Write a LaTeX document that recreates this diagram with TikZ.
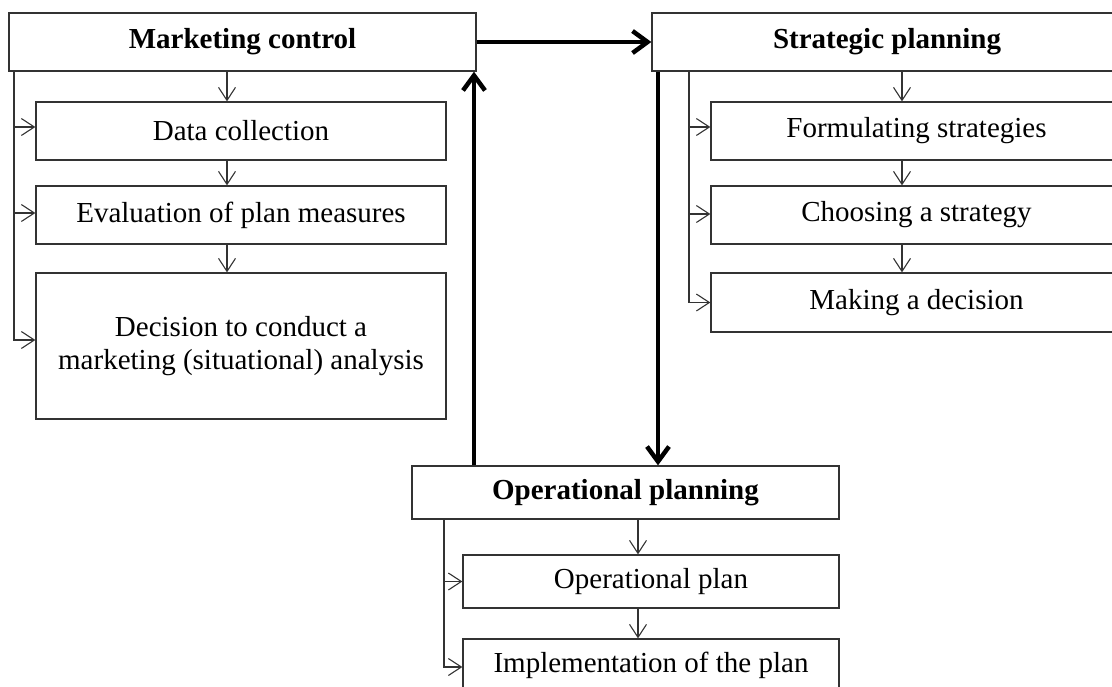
\documentclass[tikz,border=0pt]{standalone}
\usepackage{fontspec}
\setmainfont{Liberation Serif}
\usetikzlibrary{arrows.meta}

\begin{document}
\begin{tikzpicture}[x=1pt,y=-1pt,
  box/.style={draw=black!80,line width=1.3pt,inner sep=0pt,align=center,font=\fontsize{29}{33}\selectfont},
  head/.style={box,font=\fontsize{29}{33}\selectfont\bfseries},
  link/.style={draw=black!80,line width=1.1pt,-{Straight Barb[length=13pt,width=17pt,line width=1.1pt]}},
  flow/.style={draw=black,line width=4.5pt,-{Straight Barb[length=15pt,width=22pt,line width=4.5pt]}}]
  \useasboundingbox (0,0) rectangle (1112,686);
  \clip (0,0) rectangle (1112,686);
  % marketing control
  \node[head,minimum width=467pt,minimum height=58pt] (mc) at (242.5,42) {Marketing control};
  \node[box,minimum width=410pt,minimum height=58pt] (dc) at (241,131) {Data collection};
  \node[box,minimum width=410pt,minimum height=58pt] (ev) at (241,215) {Evaluation of plan measures};
  \node[box,minimum width=410pt,minimum height=146pt] (dec) at (241,346) {Decision to conduct a\\marketing (situational) analysis};
  % strategic planning
  \node[head,minimum width=470pt,minimum height=58pt] (sp) at (887,42) {Strategic planning};
  \node[box,minimum width=411pt,minimum height=58pt] (fs) at (916.5,131) {Formulating strategies};
  \node[box,minimum width=411pt,minimum height=58pt] (cs) at (916.5,215) {Choosing a strategy};
  \node[box,minimum width=411pt,minimum height=59pt] (md) at (916.5,302.5) {Making a decision};
  % operational planning
  \node[head,minimum width=427pt,minimum height=53pt] (op) at (625.5,492.5) {Operational planning};
  \node[box,minimum width=376pt,minimum height=53pt] (opl) at (651,581.5) {Operational plan};
  \node[box,minimum width=376pt,minimum height=53pt] (impl) at (651,665.5) {Implementation of the plan};

  \coordinate (lmc) at (14,0);
  \coordinate (dmc) at (227,0);
  \coordinate (lsp) at (689,0);
  \coordinate (dsp) at (902,0);
  \coordinate (lop) at (444,0);
  \coordinate (dop) at (638,0);
  \coordinate (upx) at (474,0);
  \coordinate (dnx) at (658,0);

  \draw[link] (mc.south -| dmc) -- (dc.north -| dmc);
  \draw[link] (dc.south -| dmc) -- (ev.north -| dmc);
  \draw[link] (ev.south -| dmc) -- (dec.north -| dmc);
  \draw[link] (mc.south -| lmc) |- ([yshift=4pt]dc.west);
  \draw[link] (mc.south -| lmc) |- ([yshift=2pt]ev.west);
  \draw[link] (mc.south -| lmc) |- ([yshift=6pt]dec.west);

  \draw[link] (sp.south -| dsp) -- (fs.north -| dsp);
  \draw[link] (fs.south -| dsp) -- (cs.north -| dsp);
  \draw[link] (cs.south -| dsp) -- (md.north -| dsp);
  \draw[link] (sp.south -| lsp) |- ([yshift=4pt]fs.west);
  \draw[link] (sp.south -| lsp) |- ([yshift=1pt]cs.west);
  \draw[link] (sp.south -| lsp) |- (md.west);

  \draw[link] (op.south -| dop) -- (opl.north -| dop);
  \draw[link] (opl.south -| dop) -- (impl.north -| dop);
  \draw[link] (op.south -| lop) |- (opl.west);
  \draw[link] (op.south -| lop) |- ([yshift=-1.5pt]impl.west);

  \draw[flow] (mc.east) -- (sp.west);
  \draw[flow] (sp.south -| dnx) -- (op.north -| dnx);
  \draw[flow] (op.north -| upx) -- (mc.south -| upx);
\end{tikzpicture}
\end{document}
